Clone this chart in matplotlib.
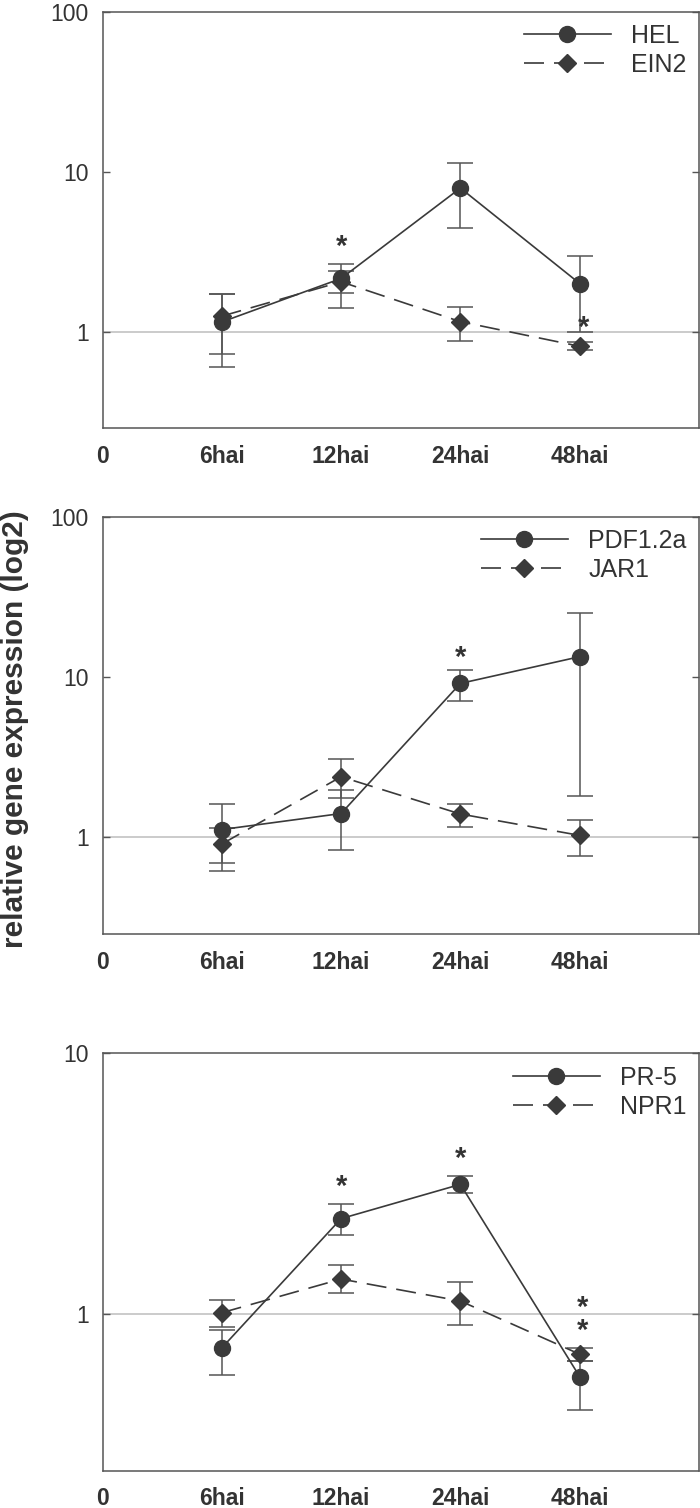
import numpy as np
import matplotlib
matplotlib.use("Agg")
import matplotlib.pyplot as plt

plt.rcParams['font.family'] = ['Liberation Sans', 'DejaVu Sans']

# x categories (0 is only a label at the left edge)
tick_labels = ['0', '6hai', '12hai', '24hai', '48hai']
times = [1, 2, 3, 4]

# panel 1
hel = [1.15, 2.15, 7.9, 2.0]
hel_hi = [1.72, 2.66, 11.3, 2.98]
hel_lo = [0.60, 1.75, 4.45, 1.0]
ein2 = [1.25, 2.05, 1.155, 0.81]
ein2_hi = [1.72, 2.40, 1.42, 0.86]
ein2_lo = [0.73, 1.41, 0.88, 0.77]
stars1_x = [2, 4.03]
stars1_y = [3.82, 1.2]
stars1_txt = ['*', '*']

# panel 2
pdf = [1.12, 1.41, 9.13, 13.4]
pdf_hi = [1.61, 1.99, 11.1, 25.2]
pdf_lo = [0.69, 0.83, 7.1, 1.81]
jar1 = [0.91, 2.39, 1.40, 1.03]
jar1_hi = [1.15, 3.07, 1.61, 1.29]
jar1_lo = [0.62, 1.75, 1.17, 0.77]
stars2_x = [3]
stars2_y = [14.9]
stars2_txt = ['*']

# panel 3
pr5 = [0.74, 2.32, 3.14, 0.574]
pr5_hi = [0.87, 2.64, 3.38, 0.66]
pr5_lo = [0.584, 2.0, 2.91, 0.428]
npr1 = [1.01, 1.36, 1.12, 0.70]
npr1_hi = [1.135, 1.54, 1.32, 0.74]
npr1_lo = [0.89, 1.2, 0.91, 0.66]
stars3_x = [2, 3, 4.02]
stars3_y = [3.31, 4.25, 1.006]
stars3_txt = ['*', '*', '*\n*']

dark = '#3a3a3a'
grey = '#555555'
txt = '#333333'
fs = 16.5

W, H = 700, 1508
fig = plt.figure(figsize=(W / 100, H / 100), dpi=100)


def panel(top, bottom, ymax, circ, circ_hi, circ_lo, dia, dia_hi, dia_lo,
          names, sx, sy, st):
    ax = fig.add_axes([102.5 / W, 1 - bottom / H, 596.5 / W, (bottom - top) / H])
    ax.set_yscale('log')
    ax.set_xlim(0, 5)
    ax.set_ylim(0.25, ymax)
    ax.axhline(1, color='#bdbdbd', lw=1.1, zorder=1)

    c = np.array(circ)
    d = np.array(dia)
    ax.errorbar(times, d, yerr=[d - np.array(dia_lo), np.array(dia_hi) - d],
                fmt='none', ecolor=grey, elinewidth=1.1, capsize=9.5, capthick=1.1, zorder=2)
    ax.errorbar(times, c, yerr=[c - np.array(circ_lo), np.array(circ_hi) - c],
                fmt='none', ecolor=grey, elinewidth=1.1, capsize=9.5, capthick=1.1, zorder=2)
    l2, = ax.plot(times, d, color=dark, lw=1.2, dashes=(12, 6), marker='D',
                  ms=9.3, mfc=dark, mec=dark, zorder=3, label=names[1])
    l1, = ax.plot(times, c, color=dark, lw=1.2, marker='o', ms=11.5,
                  mfc=dark, mec=dark, zorder=4, label=names[0])

    for x, y, s in zip(sx, sy, st):
        if '\n' in s:
            ax.annotate(s, xy=(x, y), xytext=(0, -4.5), textcoords='offset points',
                        ha='center', va='center', fontsize=21, fontweight='bold',
                        linespacing=0.73, color=txt)
        else:
            ax.annotate(s, xy=(x, y), xytext=(0, -12), textcoords='offset points',
                        ha='center', va='baseline', fontsize=21, fontweight='bold', color=txt)

    ax.legend(handles=[l1, l2], loc='upper right', frameon=False, fontsize=18,
              handlelength=3.5, handletextpad=0.8, labelspacing=0.2,
              borderpad=0.1, borderaxespad=0.4, numpoints=1, labelcolor=txt)

    ax.set_xticks(range(5))
    ax.set_xticklabels(tick_labels, fontsize=fs, fontweight='bold', color=txt)
    ax.tick_params(axis='x', length=0, pad=12)
    yt = [1, 10, 100] if ymax > 10 else [1, 10]
    ax.set_yticks(yt)
    ax.set_yticklabels([str(v) for v in yt], fontsize=fs, color=txt)
    ax.yaxis.set_minor_locator(matplotlib.ticker.NullLocator())
    ax.tick_params(axis='y', direction='in', length=5, width=1, color=grey,
                   right=True, pad=10)
    for s in ax.spines.values():
        s.set_color(grey)
        s.set_linewidth(1.1)
    return ax


panel(11.7, 428, 100, hel, hel_hi, hel_lo, ein2, ein2_hi, ein2_lo,
      ['HEL', 'EIN2'], stars1_x, stars1_y, stars1_txt)
panel(516.7, 934, 100, pdf, pdf_hi, pdf_lo, jar1, jar1_hi, jar1_lo,
      ['PDF1.2a', 'JAR1'], stars2_x, stars2_y, stars2_txt)
panel(1053.3, 1470.7, 10, pr5, pr5_hi, pr5_lo, npr1, npr1_hi, npr1_lo,
      ['PR-5', 'NPR1'], stars3_x, stars3_y, stars3_txt)

fig.text(15 / W, 1 - 729 / H, 'relative gene expression (log2)', rotation=90,
         ha='center', va='center', fontsize=21.5, fontweight='bold', color=txt)

fig.savefig('out.png', dpi=100)
